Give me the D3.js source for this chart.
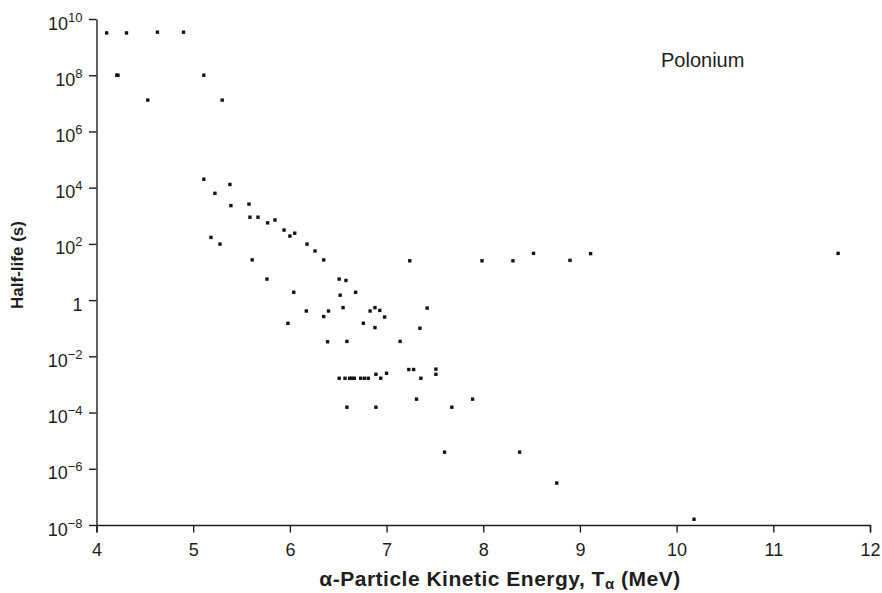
<!DOCTYPE html>
<html>
<head>
<meta charset="utf-8">
<script src="https://cdn.jsdelivr.net/npm/d3@7"></script>
<style>
  body { margin: 0; background: #fff; }
  svg text { font-family: "Liberation Sans", Arial, sans-serif; fill: #1e1e1e; }
</style>
</head>
<body>
<svg id="chart" width="882" height="593"></svg>
<script>
// alpha energies (MeV) and half-lives (s) of polonium isotopes
var energies = [
  4.105, 4.31, 4.63, 4.90, 4.21, 4.222, 5.11, 4.53, 5.30,
  5.11, 5.38, 5.225, 5.39, 5.577, 5.587, 5.67, 5.77, 5.846, 5.94, 6.0, 6.05,
  6.177, 6.26, 6.35, 5.184, 5.277, 5.61, 5.763, 6.04, 6.51, 6.58, 6.68, 6.52,
  6.17, 6.40, 6.55, 6.35, 5.98, 6.76, 6.83, 6.88, 6.93, 6.98, 7.42, 6.88,
  7.345, 6.39, 6.59, 7.14,
  7.24, 7.987, 8.307, 8.52, 8.897, 9.11, 11.67,
  6.51, 6.57, 6.618, 6.642, 6.666, 6.732, 6.771, 6.811, 6.89, 6.94, 7.0,
  7.23, 7.28, 7.51, 7.51, 7.355,
  7.31, 7.89, 6.59, 6.89, 7.675,
  7.60, 8.376, 8.76, 10.18
];
var halfLives = [
  3.2e9, 3.2e9, 3.4e9, 3.4e9, 1.0e8, 1.0e8, 1.0e8, 1.3e7, 1.3e7,
  2.0e4, 1.3e4, 6.3e3, 2.3e3, 2.6e3, 890, 890, 560, 710, 310, 190, 240,
  98, 56, 27, 170, 98, 27, 5.6, 1.9, 5.6, 5.0, 1.9, 1.5,
  0.41, 0.41, 0.54, 0.26, 0.15, 0.15, 0.41, 0.54, 0.43, 0.25, 0.52, 0.105,
  0.10, 0.033, 0.034, 0.034,
  25, 25, 25, 46, 26, 45, 46,
  1.66e-3, 1.66e-3, 1.66e-3, 1.66e-3, 1.66e-3, 1.66e-3, 1.66e-3, 1.66e-3, 2.3e-3, 1.66e-3, 2.5e-3,
  3.4e-3, 3.4e-3, 3.5e-3, 2.3e-3, 1.66e-3,
  3.0e-4, 3.0e-4, 1.55e-4, 1.55e-4, 1.55e-4,
  3.9e-6, 3.9e-6, 3.1e-7, 1.6e-8
];
var xTicks = [4, 5, 6, 7, 8, 9, 10, 11, 12];
var yExponents = [10, 8, 6, 4, 2, 0, -2, -4, -6, -8];

var points = energies.map(function (e, i) { return { e: e, t: halfLives[i] }; });

var svg = d3.select("#chart"),
    margin = { top: 19, right: 12, bottom: 68, left: 96.5 },
    width = +svg.attr("width") - margin.left - margin.right,
    height = +svg.attr("height") - margin.top - margin.bottom;

var x = d3.scaleLinear().domain([4, 12]).range([0, width]);
var y = d3.scaleLog().domain([1e-8, 1e10]).range([height, 0]);

var g = svg.append("g")
    .attr("transform", "translate(" + margin.left + "," + margin.top + ")");

var xAxis = g.append("g")
    .attr("transform", "translate(0," + height + ")")
    .call(d3.axisBottom(x).tickValues(xTicks).tickSizeOuter(0).tickSize(7.5).tickPadding(6));

var yAxis = g.append("g")
    .call(d3.axisLeft(y)
      .tickValues(yExponents.map(function (p) { return Math.pow(10, p); }))
      .tickSize(7.5).tickSizeOuter(0).tickPadding(6)
      .tickFormat(function () { return ""; }));

[xAxis, yAxis].forEach(function (a) {
  a.select(".domain").attr("stroke", "#1e1e1e").attr("stroke-width", 1.4);
  a.selectAll(".tick line").attr("stroke", "#1e1e1e").attr("stroke-width", 1.4);
});

xAxis.selectAll(".tick text")
    .style("font-size", "18px")
    .attr("dy", "0.95em");

// y labels: 10 with superscript exponent, plain "1" for 10^0
yAxis.selectAll(".tick text")
    .attr("x", -14)
    .attr("dy", 10)
    .each(function (d) {
      var t = d3.select(this);
      var p = Math.round(Math.log10(d));
      if (p === 0) {
        t.append("tspan").style("font-size", "18px").text("1");
        return;
      }
      t.append("tspan").style("font-size", "18px").text("10");
      t.append("tspan").style("font-size", "13px").attr("dy", -8)
        .text(String(p).replace("-", "\u2212"));
    });

g.selectAll("rect.pt")
    .data(points)
  .enter().append("rect")
    .attr("class", "pt")
    .attr("x", function (d) { return x(d.e) - 1.7; })
    .attr("y", function (d) { return y(d.t) - 1.7; })
    .attr("width", 3.4)
    .attr("height", 3.4)
    .attr("fill", "#141414");

svg.append("text")
    .attr("x", 661)
    .attr("y", 67)
    .style("font-size", "20px")
    .text("Polonium");

svg.append("text")
    .attr("transform", "translate(23,265) rotate(-90)")
    .attr("text-anchor", "middle")
    .style("font-size", "17px")
    .style("font-weight", "bold")
    .text("Half-life (s)");

var xl = svg.append("text")
    .attr("x", 500)
    .attr("y", 586)
    .attr("text-anchor", "middle")
    .style("font-size", "21px")
    .style("letter-spacing", "0.5px")
    .style("font-weight", "bold");
xl.append("tspan").text("\u03b1-Particle Kinetic Energy, T");
xl.append("tspan").attr("dy", 3).style("font-size", "15px").text("\u03b1");
xl.append("tspan").attr("dy", -3).text(" (MeV)");
</script>
</body>
</html>
